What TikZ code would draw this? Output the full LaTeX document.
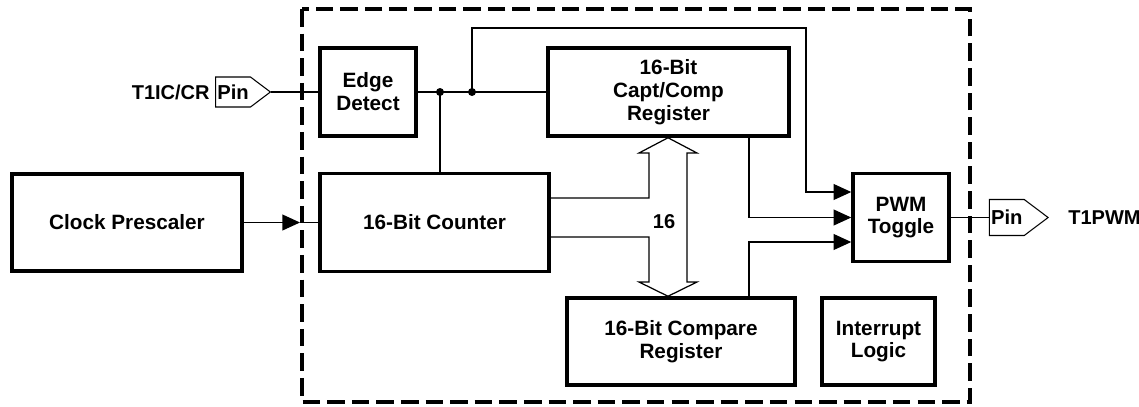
\documentclass[tikz,border=0pt]{standalone}
\usepackage{fontspec}
\setmainfont{Liberation Sans}
\usetikzlibrary{arrows.meta,positioning,shapes.symbols}

\begin{document}
\begin{tikzpicture}[x=0.02cm,y=-0.02cm,
    box/.style={draw,line width=2pt,inner sep=2pt,align=center,font=\fontsize{11.8}{13}\selectfont\bfseries},
    pin/.style={draw,line width=0.6pt,signal,signal to=east,signal pointer angle=74,
      inner sep=1pt,minimum width=1.05cm,font=\fontsize{11.5}{13}\selectfont\bfseries},
    lbl/.style={inner sep=0pt,font=\fontsize{11.4}{13}\selectfont\bfseries},
    wire/.style={line width=0.7pt},
    arr/.style={wire,-{Triangle[length=10pt,width=9pt]}}]
  \useasboundingbox (0,0) rectangle (1139,406);
  % timer boundary
  \draw[line width=2pt,dash pattern=on 10pt off 4pt] (302,9) rectangle (970,402);

  \node[box,minimum width=4.6cm,minimum height=1.94cm] (clk) at (127,222.5) {Clock Prescaler};
  \node[box,minimum width=1.92cm,minimum height=1.76cm] (edge) at (368,92) {Edge\\Detect};
  \node[box,minimum width=4.58cm,minimum height=1.96cm] (cnt) at (434.5,222.5) {16-Bit Counter};
  \node[box,minimum width=4.82cm,minimum height=1.76cm] (capt) at (668.5,92) {16-Bit\\Capt/Comp\\Register};
  \node[box,minimum width=4.56cm,minimum height=1.74cm] (cmp) at (681,341.5) {16-Bit Compare\\Register};
  \node[box,minimum width=2.26cm,minimum height=1.74cm] (intr) at (878.5,341.5) {Interrupt\\Logic};
  \node[box,minimum width=1.92cm,minimum height=1.76cm] (pwm) at (901,217.5) {PWM\\Toggle};

  \node[pin,minimum height=0.6cm,left=0.94cm of edge] (pinin) {Pin};
  \node[lbl,left=0.1cm of pinin] (t1ic) {T1IC/CR};
  \node[pin,minimum height=0.72cm,right=0.76cm of pwm] (pinout) {Pin};
  \node[lbl,right=0.38cm of pinout] (t1pwm) {T1PWM};
  \node[lbl] (bw) at (664,222) {16};

  % capture path
  \coordinate (j1) at (440,92);
  \coordinate (j2) at (472,92);
  \draw[wire] (pinin.east) -- (edge.west);
  \draw[wire] (edge.east) -- (capt.west);
  \draw[wire] (j1) -- (j1 |- cnt.north);
  \fill (j1) circle (0.08cm) (j2) circle (0.08cm);

  % clock in
  \coordinate (ctip) at (300,222.5);
  \draw[arr] (clk.east) -- (ctip);
  \draw[wire] (ctip) -- (cnt.west);

  % 16 bit bus
  \draw[wire] (cnt.east |- 0,198) -- (649,198) -- (649,153) -- (639,153) -- (capt.south -| 668,0)
    -- (697,153) -- (687,153) -- (687,282) -- (697,282) -- (cmp.north -| 668,0)
    -- (639,282) -- (649,282) -- (649,237) -- (cnt.east |- 0,237);

  % PWM inputs and output
  \draw[arr] (j2) -- (472,28) -- (806,28) -- (806,192) -- (pwm.west |- 0,192);
  \draw[arr] (capt.south -| 749,0) -- (749,0 |- pwm.west) -- (pwm.west);
  \draw[arr] (cmp.north -| 749,0) -- (749,242) -- (pwm.west |- 0,242);
  \draw[wire] (pwm.east) -- (pinout.west);
\end{tikzpicture}
\end{document}
